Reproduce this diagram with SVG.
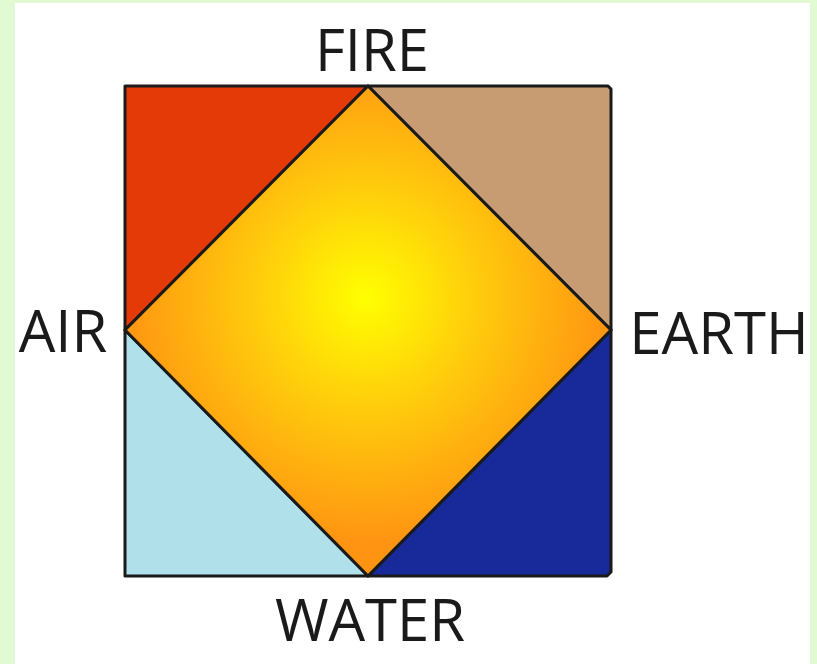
<svg xmlns="http://www.w3.org/2000/svg" width="817" height="664" viewBox="0 0 817 664">
<defs>
<radialGradient id="sun" cx="366" cy="298" r="245" gradientUnits="userSpaceOnUse">
<stop offset="0" stop-color="#ffff00"/>
<stop offset="0.45" stop-color="#ffcc0c"/>
<stop offset="1" stop-color="#ff9412"/>
</radialGradient>
<style>
.lbl{font-family:"Open Sans","Liberation Sans",sans-serif;font-size:58px;fill:#1a1a1a;text-anchor:middle}
.edge{stroke:#1a1a1a;stroke-width:3;stroke-linejoin:round}
</style>
</defs>
<rect x="0" y="0" width="817" height="664" fill="#e2fad4"/>
<rect x="15" y="3" width="795" height="661" fill="#ffffff"/>
<g id="fire-air">
<polygon class="edge" points="125,86 368,86 125,330" fill="#e33a08"/>
</g>
<g id="fire-earth">
<polygon class="edge" points="368,86 608,86 611,89 611,330" fill="#c89c73"/>
</g>
<g id="air-water">
<polygon class="edge" points="125,330 368,576 125,576" fill="#b0e0ea"/>
</g>
<g id="earth-water">
<polygon class="edge" points="611,330 611,572 607,576 368,576" fill="#18299a"/>
</g>
<g id="center">
<polygon class="edge" points="368,86 611,330 368,576 125,330" fill="url(#sun)"/>
</g>
<g id="labels">
<text class="lbl" x="372" y="71">FIRE</text>
<text class="lbl" x="63" y="352">AIR</text>
<text class="lbl" x="719" y="354">EARTH</text>
<text class="lbl" x="370" y="641">WATER</text>
</g>
</svg>
